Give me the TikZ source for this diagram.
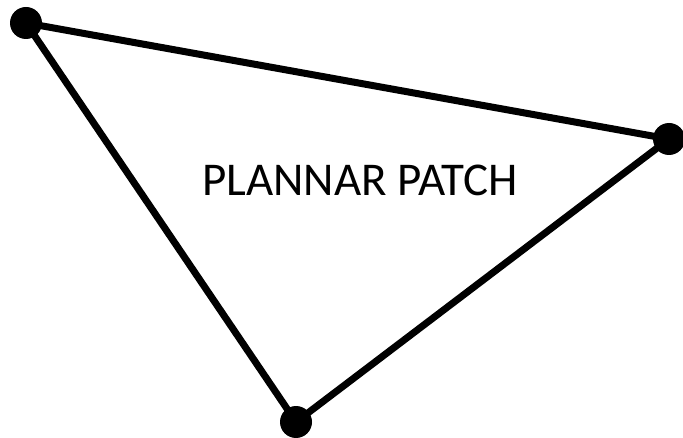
\documentclass[tikz,border=0pt]{standalone}
\usepackage{fontspec}
\setmainfont{Carlito}
\usetikzlibrary{positioning}
\definecolor{ink}{RGB}{0,0,0}
\tikzset{
  corner/.style={circle, fill=ink, draw=none, minimum size=32pt, inner sep=0pt},
  edge/.style={draw=ink, line width=7pt, line cap=round},
  label/.style={font=\fontsize{47}{56}\selectfont, text=ink}
}
\begin{document}
\begin{tikzpicture}[x=1pt,y=1pt]

% Canvas
\useasboundingbox (0,0) rectangle (683,437);

% Corners
\coordinate (a) at (26,414);
\coordinate (b) at (669,298);
\coordinate (c) at (296,15);

% Patch outline
\draw[edge] (a) -- (b) -- (c) -- cycle;

\node[corner] (ca) at (a) {};
\node[corner] (cb) at (b) {};
\node[corner] (cc) at (c) {};

% Title
\node[label] (patch) at (360,257) {PLANNAR PATCH};

\end{tikzpicture}
\end{document}
